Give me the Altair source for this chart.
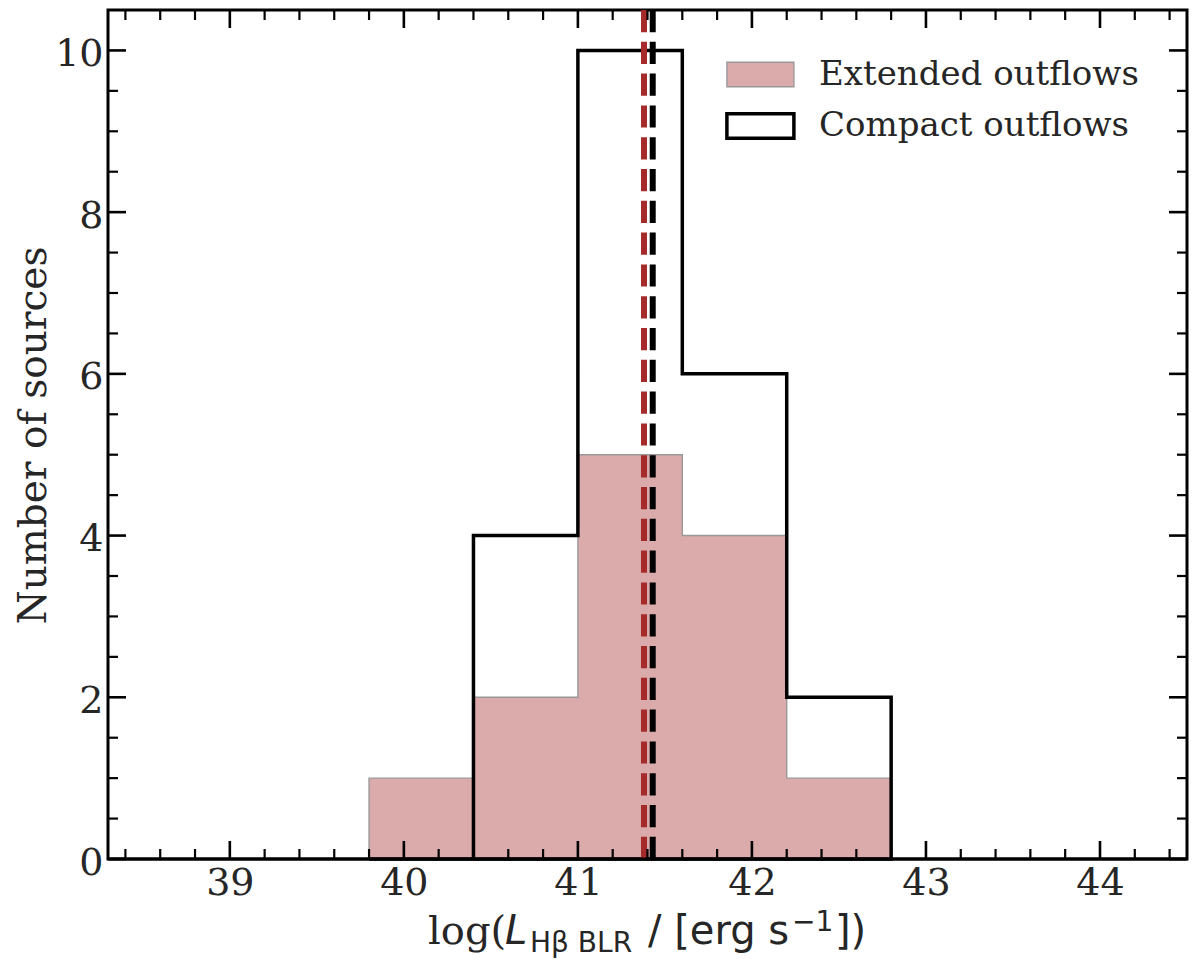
import altair as alt
import pandas as pd

# ---------------- data ----------------
bin_edges = [39.8, 40.4, 41.0, 41.6, 42.2, 42.8]
extended_counts = [1, 2, 5, 4, 1]
compact_counts = [0, 4, 10, 6, 2]
series_names = ["Extended outflows", "Compact outflows"]
median_extended = 41.38
median_compact = 41.43

x_major_ticks = [39, 40, 41, 42, 43, 44]
x_minor_ticks = [38.4, 38.6, 38.8, 39.2, 39.4, 39.6, 39.8, 40.2, 40.4, 40.6,
                 40.8, 41.2, 41.4, 41.6, 41.8, 42.2, 42.4, 42.6, 42.8, 43.2,
                 43.4, 43.6, 43.8, 44.2, 44.4]
y_major_ticks = [0, 2, 4, 6, 8, 10]
y_minor_ticks = [0.5, 1, 1.5, 2.5, 3, 3.5, 4.5, 5, 5.5, 6.5, 7, 7.5, 8.5, 9, 9.5]

# ---------------- layout / style ----------------
W, H = 1079, 849
MAJ, MIN = 18, 10
TXT = "#262626"
SERIF = "DejaVu Serif"
SANS = "DejaVu Sans"

ext_df = pd.DataFrame({"x": bin_edges,
                       "y": extended_counts + extended_counts[-1:],
                       "series": series_names[0]})
cmp_df = pd.DataFrame({"x": bin_edges,
                       "y": compact_counts + compact_counts[-1:],
                       "series": series_names[1]})
one = pd.DataFrame({"k": [0]})

x_axis = alt.Axis(values=x_major_ticks, format="d", ticks=False, tickSize=0,
                  domain=False, grid=False, labelFont=SERIF, labelFontSize=38,
                  labelColor=TXT, labelPadding=5, labelFlush=False, title=None)
y_axis = alt.Axis(values=y_major_ticks, format="d", ticks=False, tickSize=0,
                  domain=False, grid=False, labelFont=SERIF, labelFontSize=38,
                  labelColor=TXT, labelPadding=5, labelOffset=4,
                  title="Number of sources", titleFont=SERIF, titleFontSize=39,
                  titleFontWeight="normal", titleColor=TXT, titleX=-63,
                  titleY=425, titleAngle=270, titleBaseline="alphabetic",
                  titleAlign="center")

X = alt.X("x:Q", scale=alt.Scale(domain=[38.3, 44.5], nice=False, zero=False), axis=x_axis)
Y = alt.Y("y:Q", scale=alt.Scale(domain=[0, 10.5], nice=False, zero=False), axis=y_axis, stack=None)

legend = alt.Legend(title=None, orient="none", legendX=635.4, legendY=47.5,
                    symbolType="M-2.68,-0.98H2.68V0.98H-2.68Z", symbolSize=625,
                    labelFont=SERIF, labelFontSize=34, labelColor=TXT, labelLimit=600,
                    labelOffset=41.6, rowPadding=14.5, padding=0)

fill_enc = alt.Fill("series:N", scale=alt.Scale(domain=series_names, range=["#dbaaaa", "transparent"]), legend=legend)
stroke_enc = alt.Stroke("series:N", scale=alt.Scale(domain=series_names, range=["#999999", "#000000"]), legend=legend)
sw_enc = alt.StrokeWidth("series:N", scale=alt.Scale(domain=series_names, range=[1.4, 3.5]), legend=legend)

ext_area = alt.Chart(ext_df).mark_area(interpolate="step-after", strokeJoin="miter", opacity=1).encode(
    x=X, y=Y, fill=fill_enc, stroke=stroke_enc, strokeWidth=sw_enc)
cmp_area = alt.Chart(cmp_df).mark_area(interpolate="step-after", strokeJoin="miter", opacity=1).encode(
    x=X, y=Y, fill=fill_enc, stroke=stroke_enc, strokeWidth=sw_enc)

red_line = alt.Chart(pd.DataFrame({"x": [median_extended]})).mark_rule(
    color="#a52a2a", strokeWidth=6, strokeDash=[22.2, 9.6]).encode(
    x=X, y=alt.value(H), y2=alt.value(0))
black_line = alt.Chart(pd.DataFrame({"x": [median_compact]})).mark_rule(
    color="#000000", strokeWidth=6, strokeDash=[22.2, 9.6]).encode(
    x=X, y=alt.value(H), y2=alt.value(0))

xmaj = pd.DataFrame({"x": x_major_ticks})
xmin = pd.DataFrame({"x": x_minor_ticks})
ymaj = pd.DataFrame({"y": y_major_ticks})
ymin = pd.DataFrame({"y": y_minor_ticks})

ticks = [
    alt.Chart(xmaj).mark_rule(color="black", strokeWidth=2.6).encode(x=X, y=alt.value(H), y2=alt.value(H - MAJ)),
    alt.Chart(xmaj).mark_rule(color="black", strokeWidth=2.6).encode(x=X, y=alt.value(0), y2=alt.value(MAJ)),
    alt.Chart(xmin).mark_rule(color="black", strokeWidth=2.2).encode(x=X, y=alt.value(H), y2=alt.value(H - MIN)),
    alt.Chart(xmin).mark_rule(color="black", strokeWidth=2.2).encode(x=X, y=alt.value(0), y2=alt.value(MIN)),
    alt.Chart(ymaj).mark_rule(color="black", strokeWidth=2.6).encode(y=Y, x=alt.value(0), x2=alt.value(MAJ)),
    alt.Chart(ymaj).mark_rule(color="black", strokeWidth=2.6).encode(y=Y, x=alt.value(W), x2=alt.value(W - MAJ)),
    alt.Chart(ymin).mark_rule(color="black", strokeWidth=2.2).encode(y=Y, x=alt.value(0), x2=alt.value(MIN)),
    alt.Chart(ymin).mark_rule(color="black", strokeWidth=2.2).encode(y=Y, x=alt.value(W), x2=alt.value(W - MIN)),
]

bottom_spine = alt.Chart(one).mark_rule(color="black", strokeWidth=3).encode(
    x=alt.value(0), x2=alt.value(W), y=alt.value(H))


def piece(text, x, y, size, font, style="normal"):
    return alt.Chart(one).mark_text(text=text, font=font, fontSize=size, fontStyle=style,
                                    align="left", baseline="alphabetic", color=TXT).encode(
        x=alt.value(x), y=alt.value(y))


xtitle = [
    piece("log(", 320, 934, 40, SERIF),
    piece("L", 397, 934, 40, SANS, "italic"),
    piece("Hβ BLR", 422, 941.5, 28, SANS),
    piece("/ [erg s", 540, 934, 40, SANS),
    piece("−1", 684, 921, 28, SANS),
    piece("])", 727, 934, 40, SANS),
]

chart = alt.layer(ext_area, cmp_area, red_line, black_line, *ticks, bottom_spine, *xtitle).properties(
    width=W, height=H,
    padding={"left": 100, "top": 2, "right": 4, "bottom": 100},
    autosize=alt.AutoSizeParams(type="none"),
).configure_view(stroke="black", strokeWidth=3)

chart.save("out.html", embed_options={"renderer": "svg", "actions": False})
